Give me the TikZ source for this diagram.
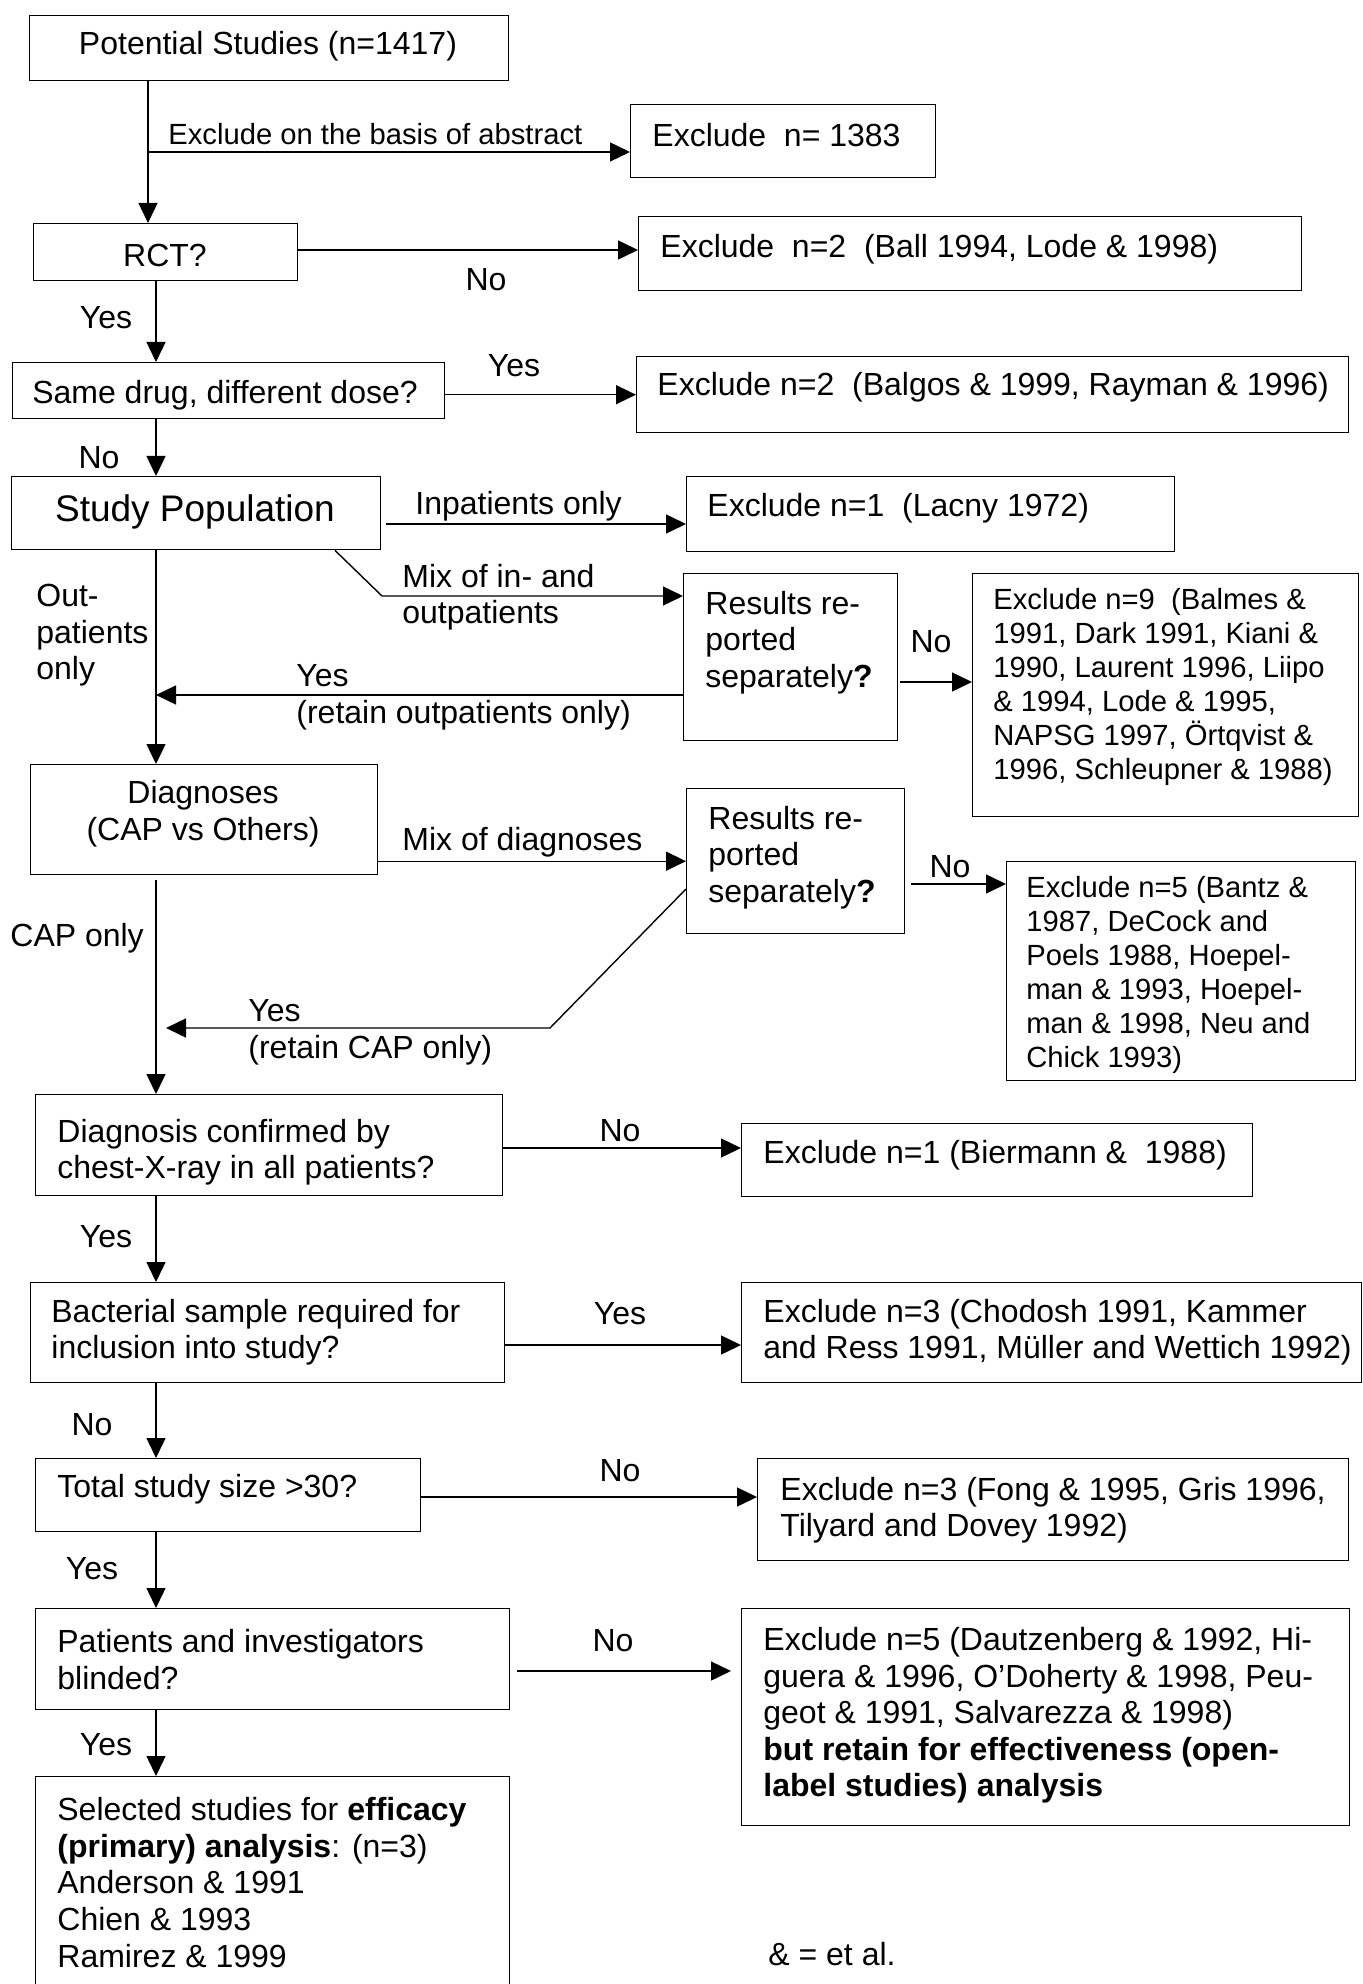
\documentclass[tikz,border=0pt]{standalone}
\usepackage{fontspec}
\setmainfont{Liberation Sans}
\usetikzlibrary{arrows.meta,calc}
\newcommand\fsnorm{\fontsize{16}{18.3}\selectfont}
\newcommand\fssmall{\fontsize{14.6}{17}\selectfont}
\newcommand\fsbig{\fontsize{18.5}{21}\selectfont}
\tikzset{
  bx/.style={draw, line width=0.7pt, inner sep=0pt, anchor=north west},
  arr/.style={line width=0.7pt, -{Triangle[length=10pt,width=9.5pt]}},
  txt/.style={inner sep=0pt, anchor=west, align=left, font=\fsnorm, yshift=-1.2pt},
  stxt/.style={inner sep=0pt, anchor=west, align=left, font=\fssmall, yshift=-1.2pt},
  lbl/.style={inner sep=0pt, font=\fsnorm, yshift=-1pt},
}
\newcommand\mkbox[5]{\node[bx, minimum width={(#4-#2)*0.5pt}, minimum height={(#5-#3)*0.5pt}] (#1) at (#2,#3) {};}
\begin{document}
\begin{tikzpicture}[x=0.5pt,y=-0.5pt]
\useasboundingbox (0,0) rectangle (1363,1984);
\fill[white] (0,0) rectangle (1363,1984);
\clip (0,0) rectangle (1363,1984);

% boxes
\mkbox{pot}{29}{15}{508}{80}
\mkbox{ex1}{630}{104}{935}{177}
\mkbox{rct}{33}{223}{297}{280}
\mkbox{ex2}{638}{216}{1301}{290}
\mkbox{dose}{12}{362}{444}{418}
\mkbox{ex3}{636}{356}{1348}{432}
\mkbox{pop}{11}{476}{380}{549}
\mkbox{ex4}{686}{476}{1174}{551}
\mkbox{res1}{683}{573}{897}{740}
\mkbox{ex5}{972}{573}{1358}{816}
\mkbox{diag}{30}{764}{377}{874}
\mkbox{res2}{686}{788}{904}{933}
\mkbox{ex6}{1006}{861}{1355}{1080}
\mkbox{conf}{35}{1094}{502}{1195}
\mkbox{ex7}{741}{1123}{1252}{1196}
\mkbox{bact}{30}{1282}{504}{1382}
\mkbox{ex8}{741}{1282}{1361}{1382}
\mkbox{size}{35}{1458}{420}{1531}
\mkbox{ex9}{757}{1458}{1348}{1560}
\mkbox{blind}{35}{1608}{509}{1709}
\mkbox{ex10}{741}{1608}{1349}{1825}
\mkbox{sel}{35}{1776}{509}{2000}

% box texts
\node[lbl] (tpot) at (268,44) {Potential Studies (n=1417)};
\node[txt] (tex1) at (652,133) {Exclude\ \ n= 1383};
\node[lbl] (trct) at (165,253) {RCT?};
\node[txt] (tex2) at (660,247) {Exclude\ \ n=2\ \ (Ball 1994, Lode \& 1998)};
\node[lbl] (tdose) at (225,393) {Same drug, different dose?};
\node[txt] (tex3) at (657,385) {Exclude n=2\ \ (Balgos \& 1999, Rayman \& 1996)};
\node[inner sep=0pt, font=\fsbig, yshift=-1pt] (tpop) at (195,510) {Study Population};
\node[txt] (tex4) at (707,506) {Exclude n=1\ \ (Lacny 1972)};
\node[txt] (tres1) at (705,640) {Results re-\\ported\\separately\textbf{?}};
\node[stxt] (tex5) at (993,685) {Exclude n=9\ \ (Balmes \&\\1991, Dark 1991, Kiani \&\\1990, Laurent 1996, Liipo\\\& 1994, Lode \& 1995,\\NAPSG 1997, Örtqvist \&\\1996, Schleupner \& 1988)};
\node[lbl, align=center] (tdiag) at (203,812) {Diagnoses\\(CAP vs Others)};
\node[txt] (tres2) at (708,855) {Results re-\\ported\\separately\textbf{?}};
\node[stxt] (tex6) at (1026,973) {Exclude n=5 (Bantz \&\\1987, DeCock and\\Poels 1988, Hoepel-\\man \& 1993, Hoepel-\\man \& 1998, Neu and\\Chick 1993)};
\node[txt] (tconf) at (57,1150) {Diagnosis confirmed by\\chest-X-ray in all patients?};
\node[txt] (tex7) at (763,1153) {Exclude n=1 (Biermann \&\ \ 1988)};
\node[txt] (tbact) at (51,1330) {Bacterial sample required for\\inclusion into study?};
\node[txt] (tex8) at (763,1330) {Exclude n=3 (Chodosh 1991, Kammer\\and Ress 1991, Müller and Wettich 1992)};
\node[txt] (tsize) at (57,1487) {Total study size >30?};
\node[txt] (tex9) at (780,1508) {Exclude n=3 (Fong \& 1995, Gris 1996,\\Tilyard and Dovey 1992)};
\node[txt] (tblind) at (57,1657) {Patients and investigators\\blinded?};
\node[txt] (tex10) at (763,1713) {Exclude n=5 (Dautzenberg \& 1992, Hi-\\guera \& 1996, O’Doherty \& 1998, Peu-\\geot \& 1991, Salvarezza \& 1998)\\\textbf{but retain for effectiveness (open-}\\\textbf{label studies) analysis}};
\node[txt] (tsel) at (57,1880) {Selected studies for \textbf{efficacy}\\\textbf{(primary) analysis}: (n=3)\\Anderson \& 1991\\Chien \& 1993\\Ramirez \& 1999};
\node[txt] (tetal) at (768,1952) {\& = et al.};

% helper coordinates
\coordinate (colA) at (148,0);
\coordinate (colB) at (156,0);
\coordinate (colC) at (166,0);
\coordinate (b1) at (148,152);
\coordinate (r2) at (0,250);
\coordinate (r6) at (0,524);
\coordinate (d1) at (335,0);
\coordinate (d2) at (382,596);
\coordinate (r8) at (0,682);
\coordinate (r9) at (0,695);
\coordinate (r12) at (0,884);
\coordinate (r13) at (0,889);
\coordinate (d3) at (550,1028);
\coordinate (r15) at (0,1148);
\coordinate (r17) at (0,1345);
\coordinate (r19) at (0,1497);
\coordinate (r21) at (0,1671);

% connectors
\draw[arr] (pot.south -| colA) -- (rct.north -| colA);
\draw[arr] (b1) -- (b1 -| ex1.west);
\draw[arr] (rct.east |- r2) -- (ex2.west |- r2);
\draw[arr] (rct.south -| colB) -- (dose.north -| colB);
\draw[arr] (dose.east |- ex3.west) -- (ex3.west);
\draw[arr] (dose.south -| colB) -- (pop.north -| colB);
\draw[arr] ($(pop.east |- r6)+(5,0)$) -- (ex4.west |- r6);
\draw[arr] (pop.south -| d1) -- (d2) -- (d2 -| res1.west);
\draw[arr] ($(res1.east |- r8)+(2,0)$) -- (ex5.west |- r8);
\draw[arr] (res1.west |- r9) -- (colB |- r9);
\draw[arr] (pop.south -| colB) -- (diag.north -| colB);
\draw[arr] (diag.east |- res2.west) -- (res2.west);
\draw[arr] ($(res2.east |- r12)+(6,0)$) -- (ex6.west |- r12);
\draw[arr] (res2.west |- r13) -- (d3) -- (d3 -| colC);
\draw[arr] ($(diag.south -| colB)+(0,5)$) -- (conf.north -| colB);
\draw[arr] (conf.east |- r15) -- (ex7.west |- r15);
\draw[arr] (conf.south -| colB) -- (bact.north -| colB);
\draw[arr] (bact.east |- r17) -- (ex8.west |- r17);
\draw[arr] (bact.south -| colB) -- (size.north -| colB);
\draw[arr] (size.east |- r19) -- (ex9.west |- r19);
\draw[arr] (size.south -| colB) -- (blind.north -| colB);
\draw[arr] ($(blind.east |- r21)+(7,0)$) -- ($(ex10.west |- r21)+(-10,0)$);
\draw[arr] (blind.south -| colB) -- (sel.north -| colB);

% connector labels
\node[stxt] (lab1) at (168,132) {Exclude on the basis of abstract};
\node[lbl] (lno1) at (486,278) {No};
\node[lbl] (lyes1) at (106,316) {Yes};
\node[lbl] (lyes2) at (514,364) {Yes};
\node[lbl] (lno2) at (99,456) {No};
\node[txt] (linp) at (415,504) {Inpatients only};
\node[txt] (lmix) at (402,595) {Mix of in- and\\outpatients};
\node[lbl] (lno3) at (931,640) {No};
\node[txt] (lout) at (36,633) {Out-\\patients\\only};
\node[txt] (lyes3) at (296,695) {Yes\\(retain outpatients only)};
\node[txt] (lmixd) at (402,840) {Mix of diagnoses};
\node[lbl] (lno4) at (950,865) {No};
\node[txt] (lyes4) at (248,1030) {Yes\\(retain CAP only)};
\node[txt] (lcap) at (10,936) {CAP only};
\node[lbl] (lno5) at (620,1129) {No};
\node[lbl] (lyes5) at (106,1235) {Yes};
\node[lbl] (lyes6) at (620,1312) {Yes};
\node[lbl] (lno6) at (92,1423) {No};
\node[lbl] (lno7) at (620,1469) {No};
\node[lbl] (lyes7) at (92,1567) {Yes};
\node[lbl] (lno8) at (613,1639) {No};
\node[lbl] (lyes8) at (106,1743) {Yes};
\end{tikzpicture}
\end{document}
